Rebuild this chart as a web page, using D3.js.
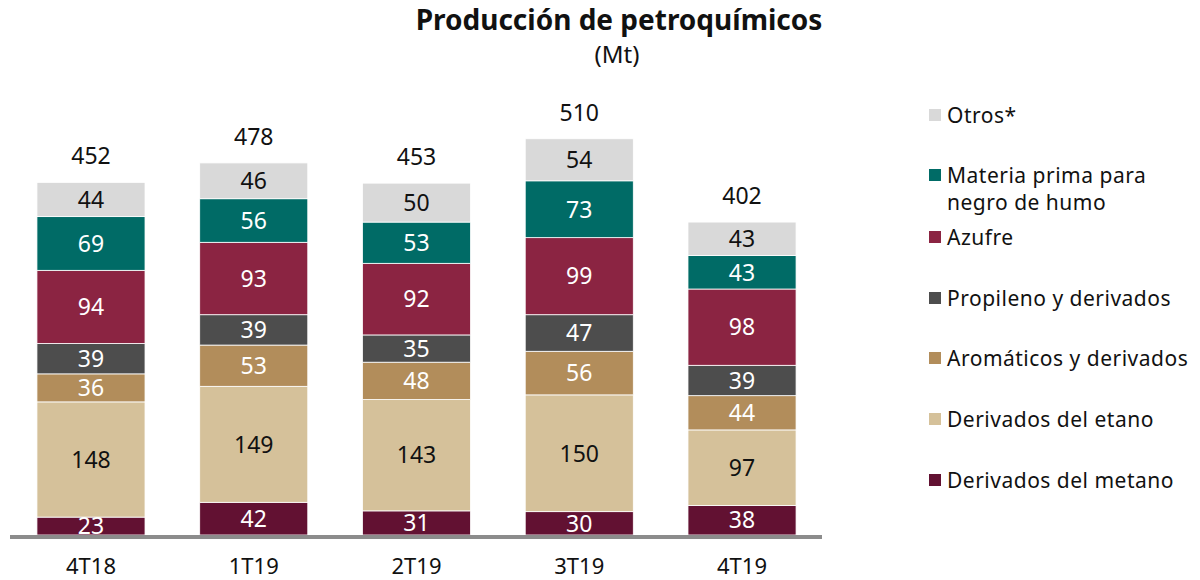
<!DOCTYPE html>
<html>
<head>
<meta charset="utf-8">
<script src="https://cdn.jsdelivr.net/npm/d3@7"></script>
<style>
  body { margin: 0; background: #fff; }
  svg { font-family: "Noto Sans", "Open Sans", sans-serif; }
</style>
</head>
<body>
<div id="chart"></div>
<script>
// datos
const categories = ["4T18", "1T19", "2T19", "3T19", "4T19"];
const metano     = [23, 42, 31, 30, 38];
const etano      = [148, 149, 143, 150, 97];
const aromaticos = [36, 53, 48, 56, 44];
const propileno  = [39, 39, 35, 47, 39];
const azufre     = [94, 93, 92, 99, 98];
const materia    = [69, 56, 53, 73, 43];
const otros      = [44, 46, 50, 54, 43];
const totals     = [452, 478, 453, 510, 402];

const seriesNames = ["Derivados del metano", "Derivados del etano", "Aromáticos y derivados",
  "Propileno y derivados", "Azufre", "Materia prima para negro de humo", "Otros*"];
const seriesValues = [metano, etano, aromaticos, propileno, azufre, materia, otros];
const colors = ["#621132", "#d5c19a", "#b28d5b", "#4d4d4d", "#8b2442", "#006b66", "#d9d9d9"];
const labelColors = ["#fff", "#111", "#fff", "#fff", "#fff", "#fff", "#111"];

const width = 1200, height = 580;
const svg = d3.select("#chart").append("svg")
  .attr("width", width).attr("height", height);

// tabla para d3.stack
const keys = seriesNames.map((d, i) => "s" + i);
const table = categories.map((c, j) => {
  const row = { cat: c };
  keys.forEach((k, i) => row[k] = seriesValues[i][j]);
  return row;
});
const stacked = d3.stack().keys(keys)(table);

const x = d3.scaleBand().domain(categories).range([9.6, 823.4])
  .paddingInner(0.336).paddingOuter(0.168);
const y = d3.scaleLinear().domain([0, 510]).range([535, 138]);

// título
svg.append("text").attr("x", 619).attr("y", 30).attr("text-anchor", "middle")
  .attr("font-size", 28).attr("font-weight", "bold").attr("fill", "#111")
  .text("Producción de petroquímicos");
svg.append("text").attr("x", 617).attr("y", 63).attr("text-anchor", "middle")
  .attr("font-size", 24).attr("fill", "#111").text("(Mt)");

// barras
const layer = svg.append("g").selectAll("g").data(stacked).join("g")
  .attr("fill", (d, i) => colors[i]);
layer.selectAll("rect").data(d => d).join("rect")
  .attr("x", d => x(d.data.cat))
  .attr("width", x.bandwidth())
  .attr("y", d => y(d[1]))
  .attr("height", d => y(d[0]) - y(d[1]))
  .attr("stroke", "#fff").attr("stroke-width", 0.8);

// etiquetas de segmentos
stacked.forEach((s, i) => {
  svg.append("g").selectAll("text").data(s).join("text")
    .attr("x", d => x(d.data.cat) + x.bandwidth() / 2)
    .attr("y", d => (y(d[0]) + y(d[1])) / 2)
    .attr("dy", "0.36em")
    .attr("text-anchor", "middle")
    .attr("font-size", 23)
    .attr("fill", labelColors[i])
    .text(d => d.data[s.key]);
});

// totales
const topLayer = stacked[stacked.length - 1];
svg.append("g").selectAll("text").data(topLayer).join("text")
  .attr("x", d => x(d.data.cat) + x.bandwidth() / 2)
  .attr("y", d => y(d[1]) - 18)
  .attr("text-anchor", "middle")
  .attr("font-size", 23).attr("fill", "#111")
  .text((d, j) => totals[j]);

// eje
svg.append("line").attr("x1", 10).attr("x2", 822)
  .attr("y1", 537).attr("y2", 537)
  .attr("stroke", "#8c8c8c").attr("stroke-width", 4);
svg.append("g").selectAll("text").data(categories).join("text")
  .attr("x", d => x(d) + x.bandwidth() / 2)
  .attr("y", 574)
  .attr("text-anchor", "middle")
  .attr("font-size", 22).attr("fill", "#111")
  .text(d => d);

// leyenda
const legendRows = [
  { i: 6, y: 115, lines: ["Otros*"] },
  { i: 5, y: 175, lines: ["Materia prima para", "negro de humo"] },
  { i: 4, y: 237, lines: ["Azufre"] },
  { i: 3, y: 298, lines: ["Propileno y derivados"] },
  { i: 2, y: 358, lines: ["Aromáticos y derivados"] },
  { i: 1, y: 419, lines: ["Derivados del etano"] },
  { i: 0, y: 480, lines: ["Derivados del metano"] }
];
const legend = svg.append("g");
legendRows.forEach(r => {
  legend.append("rect").attr("x", 929).attr("y", r.y - 6)
    .attr("width", 12).attr("height", 12).attr("fill", colors[r.i]);
  r.lines.forEach((l, k) => {
    legend.append("text").attr("x", 947).attr("y", r.y + k * 27)
      .attr("dy", "0.36em")
      .attr("font-size", 21).attr("letter-spacing", 0.5).attr("fill", "#111")
      .text(l);
  });
});
</script>
</body>
</html>
